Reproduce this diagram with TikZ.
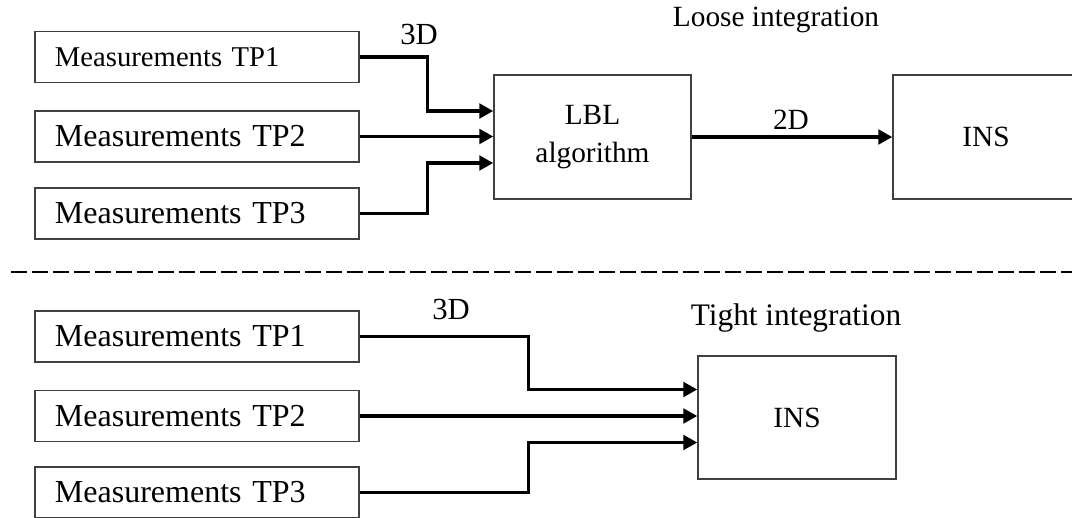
\documentclass[tikz,border=0pt]{standalone}
\usepackage{fontspec}
\setmainfont{Liberation Serif}
\usetikzlibrary{arrows.meta}
\begin{document}
\begin{tikzpicture}[x=0.75pt,y=-0.75pt,
  meas/.style={draw=black!75, line width=1.1pt, minimum height=38.25pt, inner xsep=15pt,
    text width=213pt, align=left, font=\fontsize{24}{28}\selectfont},
  block/.style={draw=black!75, line width=1.1pt, align=center, font=\fontsize{22}{25}\selectfont},
  conn/.style={line width=2.4pt, -{Triangle[length=10.5pt,width=11pt]}},
  lbl/.style={font=\fontsize{22}{25}\selectfont, inner sep=0pt}]
\useasboundingbox (0,0) rectangle (1072,518);
% upper (loose)
\node[meas, font=\fontsize{21.5}{25}\selectfont] (ua) at (197,57) {Measurements TP1};
\node[meas] (ub) at (197,136.5) {Measurements TP2};
\node[meas] (uc) at (197,213.5) {Measurements TP3};
\node[block, minimum width=147.75pt, minimum height=93pt] (lblalg) at (592.5,137) {LBL\\[3pt]algorithm};
\node[block, minimum width=139.5pt, minimum height=93pt] (insu) at (986,137) {INS};
\node[lbl] (loose) at (776,20) {Loose integration};
\node[lbl, font=\fontsize{23}{26}\selectfont] (d3u) at (419,34) {3D};
\node[lbl] (d2) at (791,120) {2D};
\draw[conn] (ua.east) -- ++(68,0) |- ([yshift=19.5pt]lblalg.west);
\draw[conn] (ub.east) -- (ub.east -| lblalg.west);
\draw[conn] (uc.east) -- ++(68,0) |- ([yshift=-19.5pt]lblalg.west);
\draw[conn] (lblalg.east) -- (insu.west);
% separator
\coordinate (dl) at (11,272);
\coordinate (dr) at (1072,272);
\draw[line width=1.5pt, dash pattern=on 12pt off 3.75pt] (dl) -- (dr);
% lower (tight)
\node[meas] (la) at (197,336.5) {Measurements TP1};
\node[meas] (lb) at (197,416) {Measurements TP2};
\node[meas] (lc) at (197,492.5) {Measurements TP3};
\node[block, minimum width=148.5pt, minimum height=92.25pt] (insl) at (797,417.5) {INS};
\node[lbl, font=\fontsize{23.5}{27}\selectfont] (tight) at (796,318) {Tight integration};
\node[lbl, font=\fontsize{23}{26}\selectfont] (d3l) at (451,309) {3D};
\draw[conn] (la.east) -- ++(169,0) |- ([yshift=21pt]insl.west);
\draw[conn] (lb.east) -- (lb.east -| insl.west);
\draw[conn] (lc.east) -- ++(169,0) |- ([yshift=-18.75pt]insl.west);
\end{tikzpicture}
\end{document}
